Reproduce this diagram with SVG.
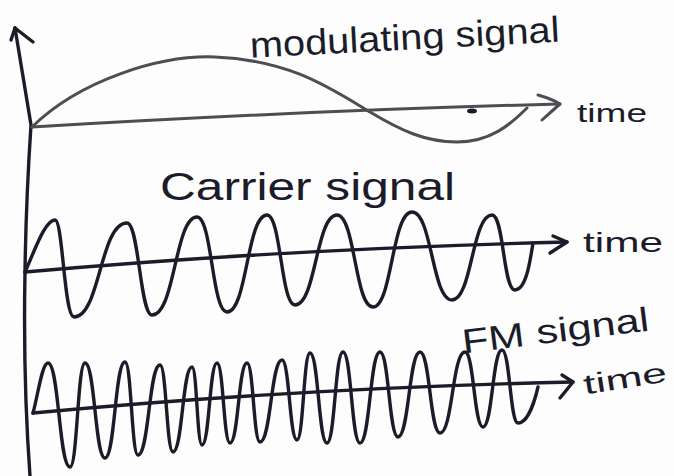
<svg xmlns="http://www.w3.org/2000/svg" width="674" height="476" viewBox="0 0 674 476">
<style>
.ink{fill:none;stroke:#1b1c2a;stroke-width:3.4;stroke-linecap:round;stroke-linejoin:round}
.soft{fill:none;stroke:#4d4d52;stroke-width:3;stroke-linecap:round;stroke-linejoin:round}
.lbl{font-family:"Liberation Sans","DejaVu Sans",sans-serif;fill:#1b1c2a}
</style>
<rect width="674" height="476" fill="#fdfdfd"/>
<g id="y-axis">
<path class="ink" d="M15,28 L31,125 Q26,200 25,272 Q23,380 30,476"/>
<path class="ink" d="M15,28 L33,42"/>
<path class="ink" d="M15,28 L11,40"/>
</g>
<g id="modulating">
<path class="soft" d="M32,127 Q320,110 560,104"/>
<path class="soft" d="M538,95 Q552,99 560,104 Q552,111 542,120"/>
<ellipse cx="472" cy="111" rx="5" ry="2.5" fill="#1b1c2a"/>
<path class="soft" d="M32,127 C80,80 160,55 215,57 C290,60 330,88 370,112 C400,130 425,142 457,142 C490,142 510,125 527,108"/>
<text class="lbl" x="250" y="50" font-size="36" textLength="310" lengthAdjust="spacingAndGlyphs" transform="rotate(-3 400 45)">modulating signal</text>
<text class="lbl" x="577" y="122" font-size="26" textLength="70" lengthAdjust="spacingAndGlyphs">time</text>
</g>
<g id="carrier">
<path class="ink" d="M25,272 Q285,249 567,242"/>
<path class="ink" d="M553,236 L567,242 L550,253"/>
<path class="ink" d="M25,272 C35,250 45,220 55,220 C63,220 64,317 74,317 C100,317 100,223 127,223 C139,223 140,315 152,315 C175,315 175,217 197,217 C212,217 212,312 227,312 C247,312 247,215 267,215 C281,215 281,305 295,305 C316,305 316,215 337,215 C355,215 355,307 373,307 C392,307 392,212 412,212 C432,212 432,300 452,300 C472,300 472,215 492,215 C504,215 503,290 515,290 C526,290 530,262 533,243"/>
<text class="lbl" x="160" y="200" font-size="38" textLength="295" lengthAdjust="spacingAndGlyphs">Carrier signal</text>
<text class="lbl" x="583" y="252" font-size="28" textLength="80" lengthAdjust="spacingAndGlyphs">time</text>
</g>
<g id="fm">
<path class="ink" d="M33,413 Q300,388 573,382"/>
<path class="ink" d="M562,375 L573,382 L560,398"/>
<path class="ink" d="M33,413 C38,395 42,363 48,363 C59,363 59,467 70,467 C77.5,467 77.5,363 85,363 C95,363 95,458 105,458 C115,458 115,362 125,362 C131.5,362 131.5,455 138,455 C149,455 149,365 160,365 C166.5,365 166.5,452 173,452 C182.5,452 182.5,367 192,367 C197,367 197,445 202,445 C209.5,445 209.5,363 217,363 C223.5,363 223.5,443 230,443 C238.5,443 238.5,363 247,363 C253.5,363 253.5,442 260,442 C271,442 271,360 282,360 C289.5,360 289.5,440 297,440 C303.5,440 303.5,353 310,353 C318.5,353 318.5,443 327,443 C335,443 335,352 343,352 C351.5,352 351.5,443 360,443 C370,443 370,352 380,352 C389,352 389,437 398,437 C409,437 409,352 420,352 C430,352 430,433 440,433 C452.5,433 452.5,352 465,352 C474,352 474,427 483,427 C492.5,427 492.5,350 502,350 C510,350 510,423 518,423 C528,423 535,400 538,387"/>
<text class="lbl" x="462" y="342" font-size="34" textLength="188" lengthAdjust="spacingAndGlyphs" transform="rotate(-7 556 335)">FM signal</text>
<text class="lbl" x="583" y="388" font-size="28" textLength="84" lengthAdjust="spacingAndGlyphs" transform="rotate(-9 625 378)">time</text>
</g>
</svg>
